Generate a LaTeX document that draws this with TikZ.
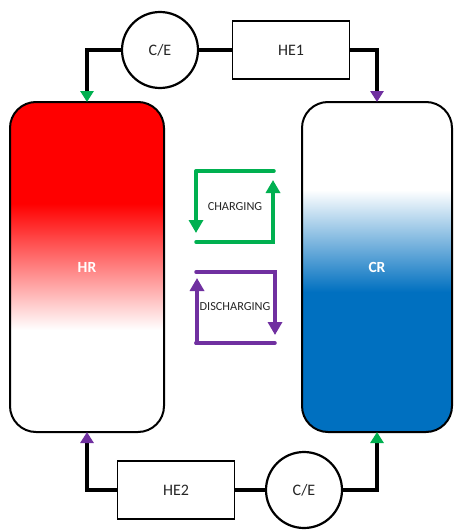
\documentclass[tikz,border=0pt]{standalone}
\usepackage{fontspec}
\setmainfont{Carlito}
\usetikzlibrary{arrows.meta}
\definecolor{grn}{HTML}{00B050}
\definecolor{pur}{HTML}{7030A0}
\definecolor{blu}{HTML}{0070C0}
\begin{document}
\begin{tikzpicture}[x=1pt,y=-1pt,
  tank/.style={draw=black,line width=2pt,rounded corners=26pt,minimum width=154pt,minimum height=330pt,inner sep=0pt,text=white,font=\fontsize{15.5}{17}\selectfont\bfseries},
  ce/.style={draw=black,line width=2.2pt,circle,minimum size=76pt,inner sep=0pt,font=\fontsize{16}{18}\selectfont,text=black!85},
  hebox/.style={draw=black,line width=1.3pt,minimum width=117pt,minimum height=58pt,inner sep=0pt,font=\fontsize{16}{18}\selectfont,text=black!85},
  pipe/.style={draw=black,line width=4pt},
  tipg/.style={-{Triangle[width=13pt,length=11pt,color=grn]}},
  tipp/.style={-{Triangle[width=13pt,length=11pt,color=pur]}},
  loopg/.style={draw=grn,line width=3.5pt,line cap=round},
  loopp/.style={draw=pur,line width=3.5pt,line cap=round},
  looptipg/.style={-{Triangle[width=14pt,length=13pt,color=grn]}},
  looptipp/.style={-{Triangle[width=14pt,length=13pt,color=pur]}},
  lbl/.style={font=\fontsize{12.3}{14}\selectfont,text=black!85}
]
\useasboundingbox (0,0) rectangle (454,530);
% HR fill
\begin{scope}
  \clip[rounded corners=26pt] (10,102) rectangle (164,432);
  \fill[red] (10,102) rectangle (164,204);
  \shade[top color=red,bottom color=white] (10,203.5) rectangle (164,330);
  \fill[white] (10,330) rectangle (164,432);
\end{scope}
% CR fill
\begin{scope}
  \clip[rounded corners=26pt] (302,102) rectangle (452,432);
  \fill[white] (302,102) rectangle (452,190);
  \shade[top color=white,bottom color=blu] (302,190) rectangle (452,292);
  \fill[blu] (302,291.5) rectangle (452,432);
\end{scope}
\node[tank] (hr) at (87,267) {HR};
\node[tank,minimum width=150pt] (cr) at (377,267) {CR};

\node[ce] (ce1) at (160,50) {C/E};
\node[hebox] (he1) at (291,50) {HE1};
\node[hebox] (he2) at (176,490) {HE2};
\node[ce] (ce2) at (304,490) {C/E};

\draw[pipe] (ce1) -- (he1);
\draw[pipe] (he2) -- (ce2);
\draw[pipe,tipg] (ce1.west) -| ([yshift=-1pt]hr.north);
\draw[pipe,tipp] (he1.east) -| ([yshift=-1pt]cr.north);
\draw[pipe,tipp] (he2.west) -| ([yshift=1pt]hr.south);
\draw[pipe,tipg] (ce2.east) -| ([yshift=1pt]cr.south);

% charging loop
\coordinate (c1) at (196,171);
\coordinate (c2) at (274,171);
\coordinate (c3) at (196,233);
\coordinate (c4) at (196,242);
\coordinate (c5) at (273,242);
\coordinate (c6) at (273,180);
\draw[loopg] (c1) -- (c2);
\draw[loopg,looptipg] (c1) -- (c3);
\draw[loopg,looptipg] (c4) -- (c5) -- (c6);
\node[lbl] (chg) at (235,207) {CHARGING};

% discharging loop
\coordinate (d1) at (196,272);
\coordinate (d2) at (275,272);
\coordinate (d3) at (275,335);
\coordinate (d4) at (196,343);
\coordinate (d5) at (275,343);
\coordinate (d6) at (197,278);
\draw[loopp,looptipp] (d1) -- (d2) -- (d3);
\draw[loopp] (d4) -- (d5);
\draw[loopp,looptipp] (d4) -- (197,343) -- (d6);
\node[lbl] (dis) at (235,307) {DISCHARGING};
\end{tikzpicture}
\end{document}
